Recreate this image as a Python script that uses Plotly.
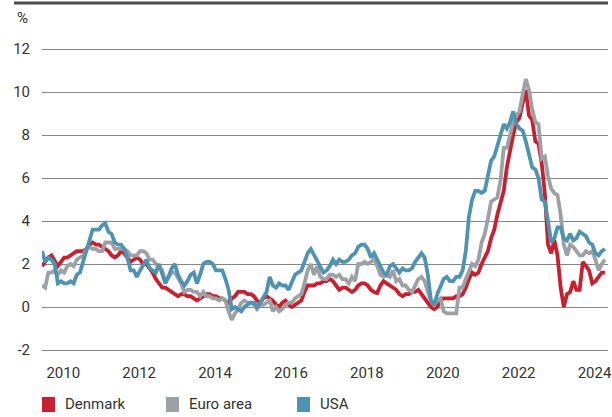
import plotly.graph_objects as go

# Monthly inflation, % y/y, Jan 2010 - Nov 2024
start_year = 2010
denmark = [
    1.9, 2.1, 2.3, 2.4, 2.1, 1.9, 2.1, 2.3, 2.3, 2.4, 2.5, 2.6,
    2.6, 2.6, 2.7, 2.9, 3.0, 2.9, 2.9, 2.8, 2.7, 2.6, 2.4, 2.3,
    2.4, 2.6, 2.5, 2.3, 2.1, 2.2, 2.3, 2.2, 2.0, 2.0, 1.8, 1.6,
    1.3, 1.1, 0.9, 0.9, 0.8, 0.7, 0.6, 0.5, 0.6, 0.6, 0.5, 0.5,
    0.4, 0.3, 0.4, 0.5, 0.6, 0.6, 0.5, 0.5, 0.4, 0.4, 0.3, 0.2,
    0.4, 0.5, 0.7, 0.7, 0.7, 0.6, 0.6, 0.5, 0.3, 0.2, 0.4, 0.5,
    0.4, 0.3, 0.1, 0.0, 0.2, 0.3, 0.1, 0.0, 0.1, 0.2, 0.3, 0.7,
    1.0, 1.0, 1.0, 1.1, 1.1, 1.2, 1.2, 1.3, 1.2, 1.0, 0.8, 0.9,
    0.9, 0.8, 0.7, 0.8, 1.0, 1.1, 1.1, 1.0, 0.8, 0.7, 0.65, 1.0,
    1.2, 1.1, 1.0, 0.9, 0.8, 0.6, 0.5, 0.6, 0.6, 0.7, 0.7, 0.8,
    0.6, 0.4, 0.2, 0.0, -0.1, 0.0, 0.3, 0.4, 0.4, 0.4, 0.4, 0.5,
    0.5, 0.6, 0.9, 1.3, 1.6, 1.5, 1.6, 2.0, 2.3, 2.6, 3.2, 3.6,
    4.3, 4.8, 5.4, 6.5, 7.3, 8.0, 8.6, 8.8, 9.5, 10.1, 8.9, 8.7,
    7.7, 7.6, 6.7, 5.3, 2.9, 2.5, 3.1, 2.4, 0.9, 0.0, 0.6, 0.7,
    1.2, 0.8, 0.8, 2.1, 1.9, 1.7, 1.1, 1.2, 1.4, 1.6, 1.6,
]
euro_area = [
    1.0, 0.9, 1.6, 1.6, 1.7, 1.5, 1.7, 1.6, 1.9, 2.0, 1.9, 2.2,
    2.3, 2.4, 2.7, 2.8, 2.7, 2.7, 2.6, 2.6, 3.0, 3.0, 3.0, 2.7,
    2.7, 2.7, 2.7, 2.6, 2.4, 2.4, 2.4, 2.6, 2.6, 2.5, 2.2, 2.2,
    2.0, 1.8, 1.7, 1.2, 1.4, 1.6, 1.6, 1.3, 1.1, 0.7, 0.8, 0.8,
    0.7, 0.7, 0.5, 0.7, 0.5, 0.5, 0.4, 0.4, 0.3, 0.4, 0.3, -0.2,
    -0.6, -0.3, -0.1, 0.2, 0.3, 0.2, 0.2, 0.1, -0.1, 0.1, 0.1, 0.2,
    0.3, -0.2, 0.0, -0.2, -0.1, 0.1, 0.2, 0.2, 0.4, 0.5, 0.6, 1.1,
    1.7, 2.0, 1.5, 1.9, 1.4, 1.3, 1.3, 1.5, 1.5, 1.4, 1.5, 1.3,
    1.3, 1.1, 1.4, 1.2, 2.0, 2.0, 2.1, 2.0, 2.1, 2.2, 1.9, 1.5,
    1.4, 1.5, 1.4, 1.7, 1.2, 1.3, 1.0, 1.0, 0.8, 0.7, 1.0, 1.3,
    1.4, 1.2, 0.7, 0.3, 0.1, 0.3, 0.4, -0.2, -0.3, -0.3, -0.3, -0.3,
    0.9, 0.9, 1.3, 1.6, 2.0, 1.9, 2.2, 3.0, 3.4, 4.1, 4.9, 5.0,
    5.1, 5.9, 7.4, 7.4, 8.1, 8.6, 8.9, 9.1, 9.9, 10.6, 10.1, 9.2,
    8.6, 8.5, 6.9, 7.0, 6.1, 5.5, 5.3, 5.2, 4.3, 2.9, 2.4, 2.9,
    2.8, 2.6, 2.4, 2.4, 2.6, 2.5, 2.6, 2.2, 1.7, 2.0, 2.2,
]
usa = [
    2.6, 2.1, 2.3, 2.2, 2.0, 1.1, 1.2, 1.1, 1.1, 1.2, 1.1, 1.5,
    1.6, 2.1, 2.7, 3.2, 3.6, 3.6, 3.6, 3.8, 3.9, 3.5, 3.4, 3.0,
    2.9, 2.9, 2.7, 2.3, 1.7, 1.7, 1.4, 1.7, 2.0, 2.2, 1.8, 1.7,
    1.6, 2.0, 1.5, 1.1, 1.4, 1.8, 2.0, 1.5, 1.2, 1.0, 1.2, 1.5,
    1.6, 1.1, 1.5, 2.0, 2.1, 2.1, 2.0, 1.7, 1.7, 1.7, 1.3, 0.8,
    -0.1, 0.0, -0.1, -0.2, 0.0, 0.1, 0.2, 0.2, 0.0, 0.2, 0.5, 0.7,
    1.4, 1.0, 0.9, 1.1, 1.0, 1.0, 0.8, 1.1, 1.5, 1.6, 1.7, 2.1,
    2.5, 2.7, 2.4, 2.2, 1.9, 1.6, 1.7, 1.9, 2.2, 2.0, 2.2, 2.1,
    2.1, 2.2, 2.4, 2.5, 2.8, 2.9, 2.9, 2.7, 2.3, 2.5, 2.2, 1.9,
    1.6, 1.5, 1.9, 2.0, 1.8, 1.6, 1.8, 1.7, 1.7, 1.8, 2.1, 2.3,
    2.5, 2.3, 1.5, 0.3, 0.1, 0.6, 1.0, 1.3, 1.4, 1.2, 1.2, 1.4,
    1.4, 1.7, 2.6, 4.2, 5.0, 5.4, 5.4, 5.3, 5.4, 6.2, 6.8, 7.0,
    7.5, 7.9, 8.5, 8.3, 8.6, 9.1, 8.5, 8.3, 8.2, 7.7, 7.1, 6.5,
    6.4, 6.0, 5.0, 4.9, 4.0, 3.0, 3.2, 3.7, 3.7, 3.2, 3.1, 3.4,
    3.1, 3.2, 3.5, 3.4, 3.3, 3.0, 2.9, 2.5, 2.4, 2.6, 2.7,
]
series_names = ["Denmark", "Euro area", "USA"]
series_colors = ["#c8202f", "#9da1a6", "#4f93b3"]
tick_years = [2010, 2012, 2014, 2016, 2018, 2020, 2022, 2024]
y_ticks = [-2, 0, 2, 4, 6, 8, 10, 12]

def months(n):
    return [start_year + i / 12 for i in range(n)]

FONT = "Roboto"
TEXT = "#333333"

W, H = 612, 417
L, R, T, B = 42, 4, 45, 60
ph = H - T - B
pw = W - L - R
px_per_unit = 21.5
y_top = 12 + (49 - T) / px_per_unit
y_bot = y_top - ph / px_per_unit
px_per_year = 37.95
x_end = start_year + pw / px_per_year

def xp(px):
    return (px - L) / pw

def yp(py):
    return (T + ph - py) / ph

fig = go.Figure()
for name, vals, col in zip(series_names, [denmark, euro_area, usa], series_colors):
    fig.add_trace(go.Scatter(
        x=months(len(vals)), y=vals, mode="lines", name=name,
        line=dict(color=col, width=3.8), showlegend=False,
        hoverinfo="skip",
    ))

# manual legend (squares + labels)
legend_square_x = [42, 166, 297]
shapes = [dict(
    type="line", xref="paper", yref="paper",
    x0=xp(14), x1=1.0, y0=yp(3), y1=yp(3),
    line=dict(color="#4a4a4a", width=3),
)]
annotations = [dict(
    text="%", xref="paper", yref="paper",
    x=xp(15), y=yp(18), xanchor="left", yanchor="middle", showarrow=False,
    font=dict(family=FONT, size=15, color=TEXT),
)]
for name, col, sx in zip(series_names, series_colors, legend_square_x):
    shapes.append(dict(
        type="rect", xref="paper", yref="paper",
        x0=xp(sx), x1=xp(sx + 13), y0=yp(412), y1=yp(397),
        fillcolor=col, line=dict(width=0),
    ))
    annotations.append(dict(
        text=name, xref="paper", yref="paper",
        x=xp(sx + 21), y=yp(404.5), xanchor="left", yanchor="middle",
        showarrow=False, font=dict(family=FONT, size=15, color=TEXT),
    ))

fig.update_layout(
    width=W, height=H,
    margin=dict(l=L, r=R, t=T, b=B, autoexpand=False),
    paper_bgcolor="white", plot_bgcolor="white",
    font=dict(family=FONT, size=15, color=TEXT),
    showlegend=False,
    xaxis=dict(
        range=[start_year, x_end],
        tickvals=[y + 0.56 for y in tick_years],
        ticktext=[str(y) for y in tick_years],
        showgrid=False, zeroline=False, showline=False,
        ticks="outside", ticklen=2, tickcolor="rgba(0,0,0,0)",
        tickfont=dict(family=FONT, size=15, color=TEXT),
        automargin=False, ticklabeloverflow="allow",
    ),
    yaxis=dict(
        range=[y_bot, y_top],
        tickvals=y_ticks,
        ticktext=[str(v) for v in y_ticks],
        showgrid=True, gridcolor="#858585", gridwidth=1.4,
        zeroline=False, showline=False,
        ticks="outside", ticklen=8, tickcolor="rgba(0,0,0,0)",
        tickfont=dict(family=FONT, size=15, color=TEXT),
        automargin=False,
    ),
    shapes=shapes,
    annotations=annotations,
)

fig.write_html(
    "out.html",
    config={"displayModeBar": False},
    post_script="document.body.style.margin='0';document.body.style.padding='0';",
)
